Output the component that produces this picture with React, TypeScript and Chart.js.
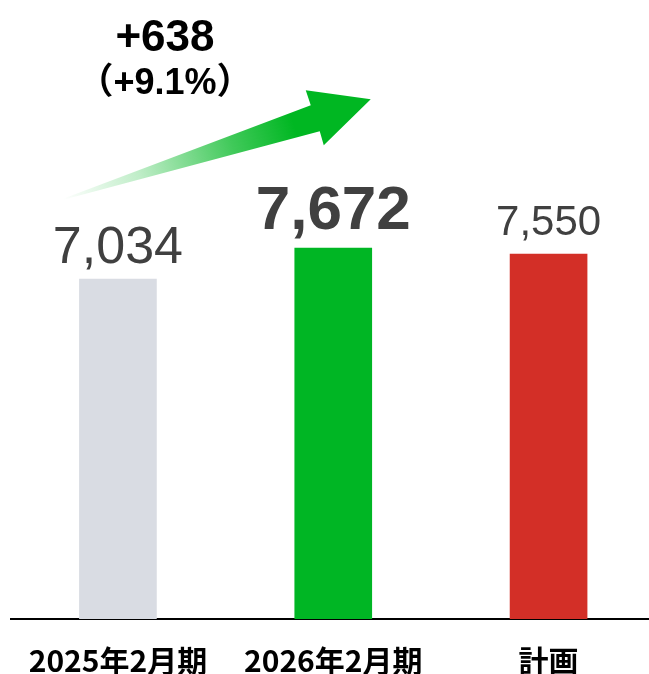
import React, { useEffect, useRef } from "react";
import { Chart, registerables } from "chart.js";

Chart.register(...registerables);

const categories = ["2025年2月期", "2026年2月期", "計画"];
const values = [7034, 7672, 7550];
const valueLabels = ["7,034", "7,672", "7,550"];
const diffLabel = "+638";
const pctLabel = "（+9.1%）";

const barColors = ["#D9DCE3", "#00B624", "#D32F27"];
const labelFonts = [
  "normal 52px 'Liberation Sans', Arial, sans-serif",
  "bold 62px 'Liberation Sans', Arial, sans-serif",
  "normal 42px 'Liberation Sans', Arial, sans-serif",
];
const labelOffsets = [16, 19, 19];

const overlayPlugin = {
  id: "overlay",
  afterDatasetsDraw(chart: any) {
    const ctx = chart.ctx;
    const xs = chart.scales.x;
    const ys = chart.scales.y;
    const meta = chart.getDatasetMeta(0);
    ctx.save();
    meta.data.forEach((bar: any, i: number) => {
      ctx.font = labelFonts[i];
      ctx.fillStyle = "#404040";
      ctx.textAlign = "center";
      ctx.textBaseline = "alphabetic";
      ctx.fillText(valueLabels[i], bar.x, bar.y - labelOffsets[i]);
    });
    const x0 = xs.getPixelForValue(0);
    const x1 = xs.getPixelForValue(1);
    const y0 = ys.getPixelForValue(values[0]);
    const y1 = ys.getPixelForValue(values[1]);
    const tail = [x0 - 55.5, y0 - 80];
    const tip = [x1 + 37.5, y1 - 149];
    const grad = ctx.createLinearGradient(tail[0], tail[1], tip[0], tip[1]);
    grad.addColorStop(0, "rgba(0,183,34,0)");
    grad.addColorStop(0.25, "rgba(0,183,34,0.25)");
    grad.addColorStop(0.55, "rgba(0,183,34,0.75)");
    grad.addColorStop(0.75, "rgba(0,183,34,1)");
    grad.addColorStop(1, "rgba(0,183,34,1)");
    ctx.beginPath();
    ctx.moveTo(tail[0], tail[1]);
    ctx.lineTo(x1 - 22.5, y1 - 143);
    ctx.lineTo(x1 - 27.5, y1 - 158);
    ctx.lineTo(tip[0], tip[1]);
    ctx.lineTo(x1 - 9.5, y1 - 103);
    ctx.lineTo(x1 - 13.5, y1 - 117);
    ctx.lineTo(tail[0], tail[1] + 1);
    ctx.closePath();
    ctx.fillStyle = grad;
    ctx.fill();
    ctx.fillStyle = "#000";
    ctx.textAlign = "center";
    ctx.textBaseline = "alphabetic";
    ctx.font = "bold 44px 'Liberation Sans', Arial, sans-serif";
    ctx.fillText(diffLabel, x0 + 47, y1 - 197);
    ctx.font = "bold 36px 'Liberation Sans', 'Noto Sans CJK JP', sans-serif";
    ctx.fillText(pctLabel, x0 + 47, y1 - 154);
    ctx.restore();
  },
};

export default function App() {
  const canvasRef = useRef<HTMLCanvasElement | null>(null);

  useEffect(() => {
    if (!canvasRef.current) return;
    const chart = new Chart(canvasRef.current, {
      type: "bar",
      data: {
        datasets: [
          {
            data: values.map((v, i) => ({ x: i, y: v })),
            backgroundColor: barColors,
            barThickness: 77,
            borderWidth: 0,
          },
        ],
      },
      options: {
        animation: false,
        responsive: true,
        maintainAspectRatio: false,
        layout: { autoPadding: false, padding: { left: 10, right: 0, top: 39, bottom: -29 } },
        plugins: {
          legend: { display: false },
          tooltip: { enabled: false },
          title: { display: false },
        },
        scales: {
          x: {
            type: "linear",
            offset: false,
            min: -0.4988,
            max: 2.4664,
            grid: { display: false, offset: false, drawTicks: false },
            border: { display: true, color: "#000", width: 2 },
            afterBuildTicks: (scale: any) => {
              scale.ticks = categories.map((_, i) => ({ value: i }));
            },
            ticks: {
              autoSkip: false,
              maxRotation: 0,
              minRotation: 0,
              padding: 27,
              color: "#000",
              font: {
                family: "'Noto Sans CJK JP', sans-serif",
                weight: "bold",
                size: 30,
                lineHeight: 1.0,
              },
              callback: (v: any) => categories[Math.round(Number(v))] ?? "",
            },
          },
          y: {
            display: false,
            min: 0,
            max: 12000,
          },
        },
      },
      plugins: [overlayPlugin],
    });
    return () => chart.destroy();
  }, []);

  return (
    <div style={{ position: "fixed", left: 0, top: 0, width: 649, height: 674, background: "#fff" }}>
      <canvas ref={canvasRef} />
    </div>
  );
}
